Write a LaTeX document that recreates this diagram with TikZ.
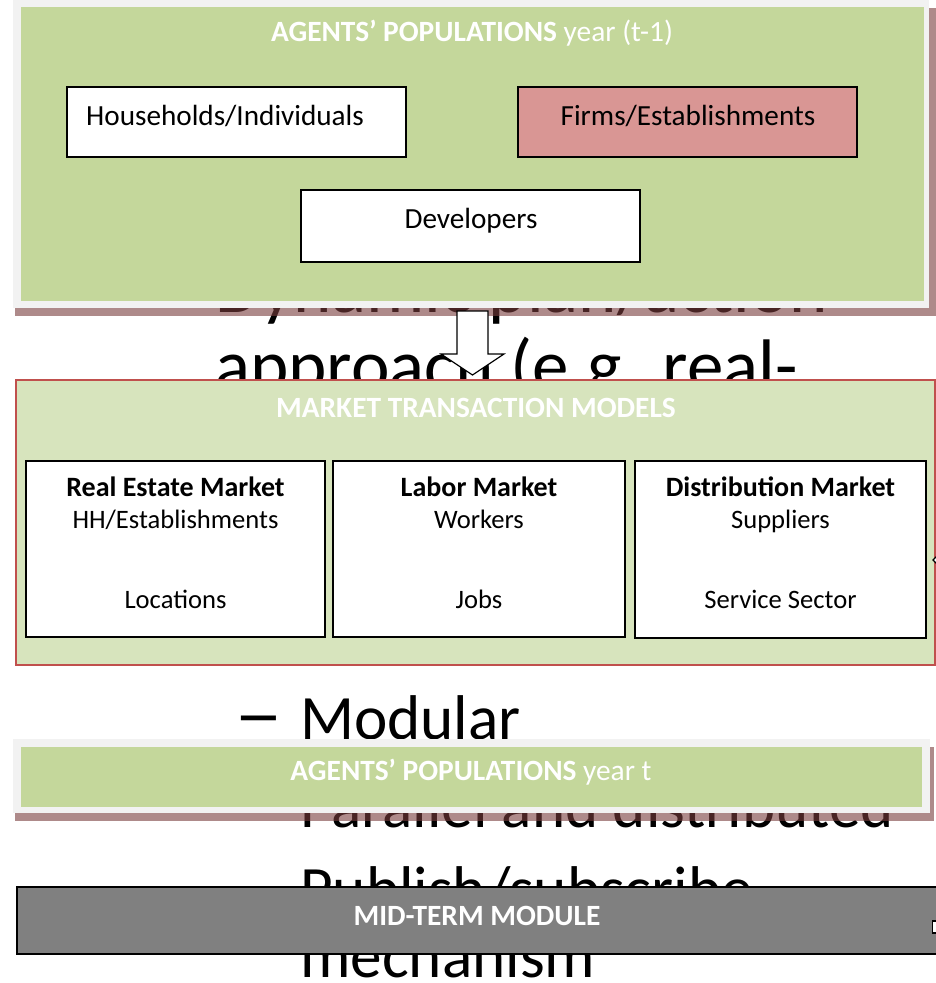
\documentclass[tikz,border=0pt]{standalone}
\usepackage{fontspec}
\setmainfont{Carlito}
\definecolor{topgreen}{RGB}{196,215,155}
\definecolor{mktgreen}{RGB}{215,228,189}
\definecolor{mktred}{RGB}{192,80,77}
\definecolor{framegray}{RGB}{242,242,242}
\definecolor{firmred}{RGB}{217,150,148}
\definecolor{midgray}{RGB}{128,128,128}
\definecolor{shcol}{RGB}{120,60,60}
\begin{document}
\begin{tikzpicture}[x=1pt,y=-1pt,
  box/.style={draw=black, line width=1.3pt, fill=white, inner sep=0pt},
  panel/.style={inner sep=0pt, draw=none},
  lbl/.style={anchor=base, inner sep=0pt, font=\fontsize{29.2}{34}\selectfont},
  mlbl/.style={anchor=base, inner sep=0pt, font=\fontsize{26.6}{32}\selectfont},
  mhead/.style={anchor=base, inner sep=0pt, font=\fontsize{28}{32}\selectfont\bfseries},
  ttl/.style={anchor=base, inner sep=0pt, text=white, font=\fontsize{29.4}{34}\selectfont},
  bigtxt/.style={anchor=base west, inner sep=0pt, font=\fontsize{73}{80}\selectfont},
  midtxt/.style={anchor=base west, inner sep=0pt, font=\fontsize{63.2}{70}\selectfont},
  shadowfill/.style={fill=shcol, fill opacity=0.6, draw=none},
]
\useasboundingbox (0,0) rectangle (936,983);
\fill[white] (0,0) rectangle (936,983);

% slide text lying behind the diagram
\node[bigtxt] (t1) at (215,312) {Dynamic plan/action};
\node[bigtxt] (t2) at (215,390) {approach (e.g. real-};
\node[midtxt] (t3d) at (234,739) {\scalebox{1.55}[1.2]{–}};
\node[midtxt] (t3) at (300,739) {Modular};
\node[midtxt] (t4) at (300,827) {Parallel and distributed};
\node[midtxt] (t5) at (300,910) {Publish/subscribe};
\node[midtxt] (t6) at (300,977) {mechanism};

% top panel: agents' populations year (t-1)
\fill[shadowfill] (15,8) rectangle (936,316);
\node[panel, fill=framegray, minimum width=916pt, minimum height=308pt] (topframe) at (471,154) {};
\node[panel, fill=topgreen, minimum width=903pt, minimum height=294pt] (top) at (472.5,154) {};
\node[ttl] (toptitle) at (472,41) {\textbf{AGENTS’ POPULATIONS} year (t-1)};
\node[box, minimum width=339pt, minimum height=70pt] (hh) at (236.5,122) {};
\node[box, fill=firmred, minimum width=339pt, minimum height=70pt] (firms) at (687.5,122) {};
\node[box, minimum width=339pt, minimum height=72pt] (dev) at (470.5,226) {};
\node[lbl, anchor=base west] (hhl) at (86,125) {Households/Individuals};
\node[lbl] (firmsl) at (688,125) {Firms/Establishments};
\node[lbl] (devl) at (471,228) {Developers};

% block arrow
\draw[fill=white, line width=1.2pt, line join=miter]
  (457,311) -- (488,311) -- (488,354) -- (504,354) -- (472.5,375)
  -- (441,354) -- (457,354) -- cycle;

% market transaction models
\node[panel, fill=mktgreen, draw=mktred, line width=1.2pt, minimum width=919pt, minimum height=285pt] (mkt) at (475.5,522.5) {};
\node[ttl] (mkttitle) at (476,417) {\textbf{MARKET TRANSACTION MODELS}};
\node[box, minimum width=299pt, minimum height=176pt] (re) at (175.5,549) {};
\node[box, minimum width=292pt, minimum height=176pt] (lab) at (479,549) {};
\node[box, minimum width=291pt, minimum height=177pt] (dis) at (780.5,549.5) {};
\node[mhead] (re1) at (175.5,496) {Real Estate Market};
\node[mlbl] (re2) at (175.5,528) {HH/Establishments};
\node[mlbl] (re3) at (175.5,608) {Locations};
\node[mhead] (lab1) at (479,496) {Labor Market};
\node[mlbl] (lab2) at (479,528) {Workers};
\node[mlbl] (lab3) at (479,608) {Jobs};
\node[mhead] (dis1) at (780.5,496) {Distribution Market};
\node[mlbl] (dis2) at (780.5,528) {Suppliers};
\node[mlbl] (dis3) at (780.5,608) {Service Sector};
\draw[fill=white, line width=1.2pt] (939,554) -- (933,560) -- (939,566) -- (945,560) -- cycle;

% agents' populations year t
\fill[shadowfill] (15,747) rectangle (934,821);
\node[panel, fill=framegray, minimum width=917pt, minimum height=74pt] (botframe) at (471.5,776) {};
\node[panel, fill=topgreen, minimum width=901pt, minimum height=60pt] (bot) at (471.5,777) {};
\node[ttl] (bottitle) at (471,780) {\textbf{AGENTS’ POPULATIONS} year t};

% mid-term module
\node[panel, fill=midgray, draw=black, line width=1.3pt, minimum width=933pt, minimum height=67pt] (midterm) at (483.5,920.5) {};
\node[ttl] (midtitle) at (477,925) {\textbf{MID-TERM MODULE}};
\draw[fill=white, line width=1.2pt] (932.5,921) rectangle (945,933);
\end{tikzpicture}
\end{document}
